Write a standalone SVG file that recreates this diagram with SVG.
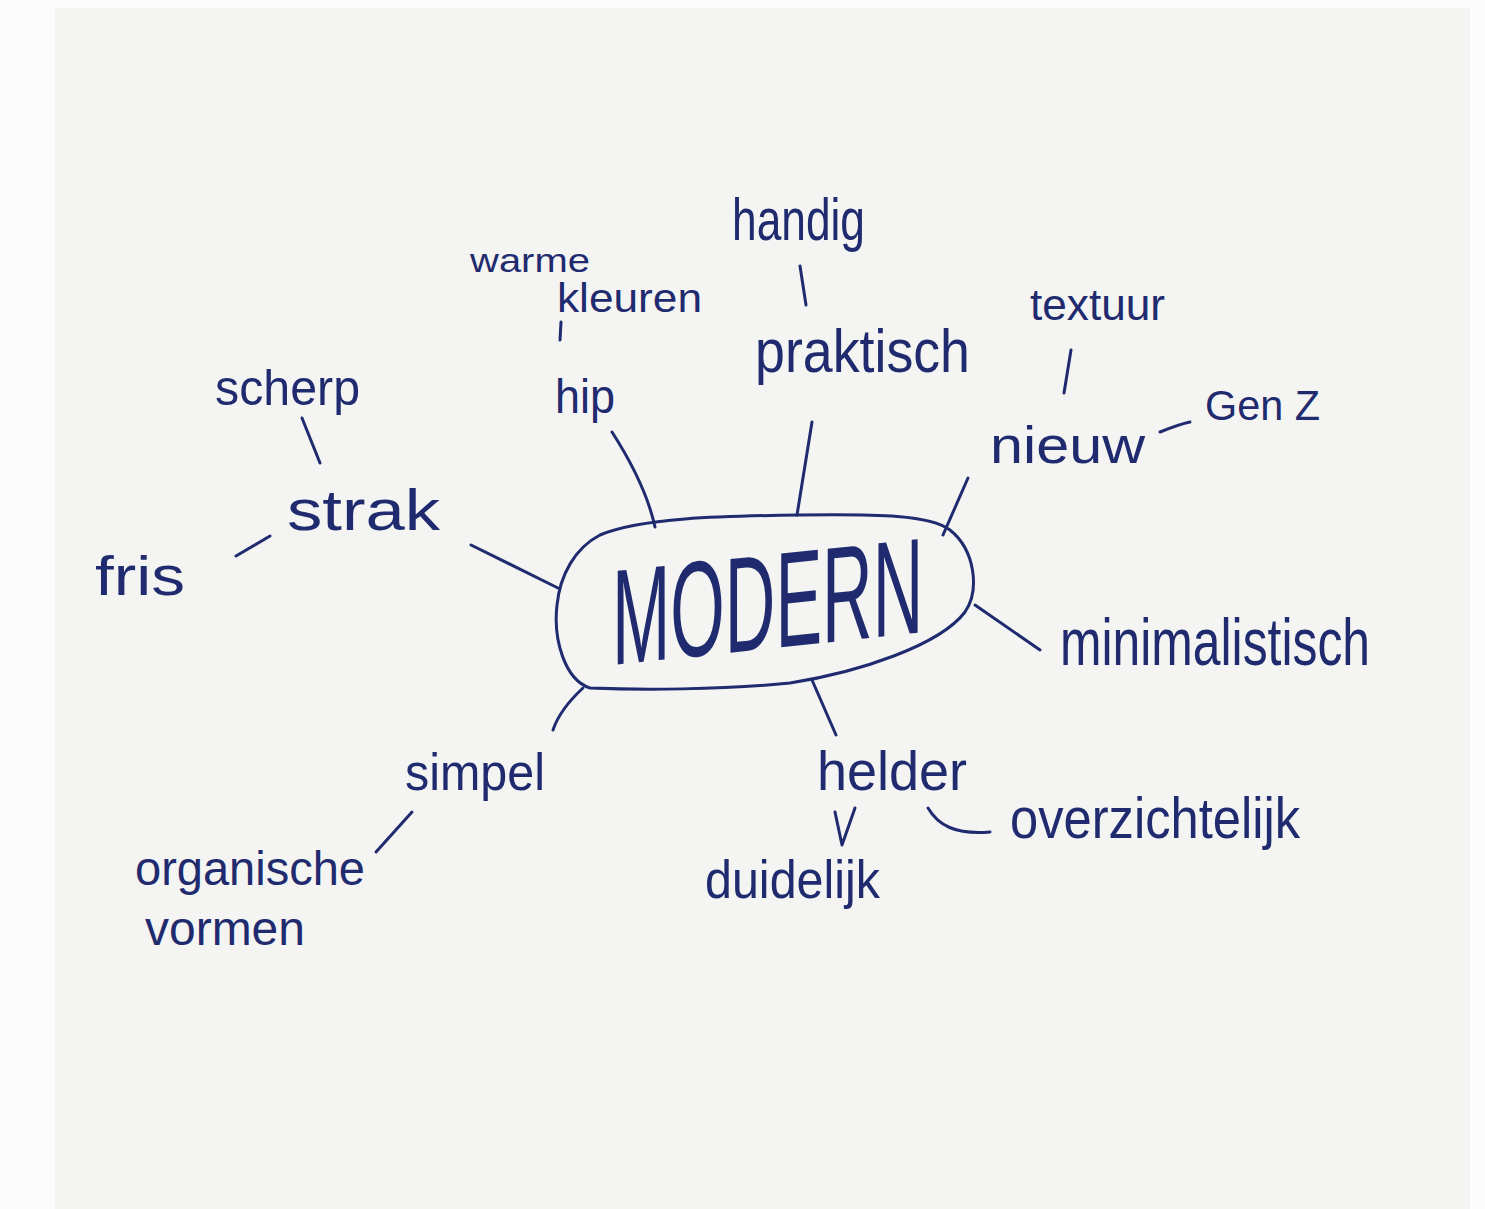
<svg xmlns="http://www.w3.org/2000/svg" width="1485" height="1209" viewBox="0 0 1485 1209">
<style>
.t{font-family:"Liberation Sans","DejaVu Sans",sans-serif;fill:#1f2b6e;}
.c{fill:none;stroke:#1f2b6e;stroke-width:3;stroke-linecap:round;stroke-linejoin:round;}
</style>
<rect x="0" y="0" width="1485" height="1209" fill="#fcfcfc"/>
<rect x="55" y="8" width="1415" height="1201" fill="#f4f4f3"/>
<g id="connectors">
<path class="c" d="M561,322 L560,340"/>
<path class="c" d="M612,432 C630,460 648,495 655,527"/>
<path class="c" d="M800,266 L806,305"/>
<path class="c" d="M812,422 L797,515"/>
<path class="c" d="M1071,350 L1064,393"/>
<path class="c" d="M1160,432 C1170,428 1180,424 1190,422"/>
<path class="c" d="M968,478 L943,535"/>
<path class="c" d="M302,418 L320,463"/>
<path class="c" d="M236,556 L270,536"/>
<path class="c" d="M471,545 L558,588"/>
<path class="c" d="M975,605 L1040,650"/>
<path class="c" d="M583,688 C570,700 558,715 553,730"/>
<path class="c" d="M412,812 L376,852"/>
<path class="c" d="M812,680 L836,735"/>
<path class="c" d="M855,808 L842,845 L835,812"/>
<path class="c" d="M928,808 C938,825 955,835 990,832"/>
</g>
<g id="modern">
<path class="c" d="M600,535 C640,518 720,516 800,515 C880,514 930,515 950,530 C975,550 980,590 965,612 C940,645 860,672 790,683 C720,690 640,690 590,688 C565,680 553,640 557,605 C560,575 575,548 600,535 Z"/>
<text class="t" transform="translate(612,665) skewY(-6) scale(0.515,1)" x="0" y="0" font-size="136">MODERN</text>
</g>
<g id="warme-kleuren">
<text class="t" x="470" y="272" font-size="34" textLength="120" lengthAdjust="spacingAndGlyphs">warme</text>
<text class="t" x="557" y="312" font-size="40" textLength="145" lengthAdjust="spacingAndGlyphs">kleuren</text>
</g>
<g id="hip"><text class="t" x="555" y="413" font-size="48" textLength="60" lengthAdjust="spacingAndGlyphs">hip</text></g>
<g id="handig"><text class="t" x="732" y="240" font-size="60" textLength="133" lengthAdjust="spacingAndGlyphs">handig</text></g>
<g id="praktisch"><text class="t" x="755" y="372" font-size="62" textLength="215" lengthAdjust="spacingAndGlyphs">praktisch</text></g>
<g id="textuur"><text class="t" x="1030" y="320" font-size="44" textLength="135" lengthAdjust="spacingAndGlyphs">textuur</text></g>
<g id="nieuw"><text class="t" x="990" y="463" font-size="52" textLength="155" lengthAdjust="spacingAndGlyphs">nieuw</text></g>
<g id="genz"><text class="t" x="1205" y="420" font-size="42" textLength="115" lengthAdjust="spacingAndGlyphs">Gen Z</text></g>
<g id="scherp"><text class="t" x="215" y="405" font-size="50" textLength="145" lengthAdjust="spacingAndGlyphs">scherp</text></g>
<g id="strak"><text class="t" x="287" y="530" font-size="58" textLength="153" lengthAdjust="spacingAndGlyphs">strak</text></g>
<g id="fris"><text class="t" x="95" y="595" font-size="56" textLength="90" lengthAdjust="spacingAndGlyphs">fris</text></g>
<g id="minimalistisch"><text class="t" x="1060" y="665" font-size="66" textLength="310" lengthAdjust="spacingAndGlyphs">minimalistisch</text></g>
<g id="simpel"><text class="t" x="405" y="790" font-size="52" textLength="140" lengthAdjust="spacingAndGlyphs">simpel</text></g>
<g id="organische-vormen">
<text class="t" x="135" y="885" font-size="48" textLength="230" lengthAdjust="spacingAndGlyphs">organische</text>
<text class="t" x="145" y="945" font-size="48" textLength="160" lengthAdjust="spacingAndGlyphs">vormen</text>
</g>
<g id="helder"><text class="t" x="817" y="790" font-size="56" textLength="150" lengthAdjust="spacingAndGlyphs">helder</text></g>
<g id="duidelijk"><text class="t" x="705" y="898" font-size="54" textLength="175" lengthAdjust="spacingAndGlyphs">duidelijk</text></g>
<g id="overzichtelijk"><text class="t" x="1010" y="838" font-size="58" textLength="290" lengthAdjust="spacingAndGlyphs">overzichtelijk</text></g>
</svg>
